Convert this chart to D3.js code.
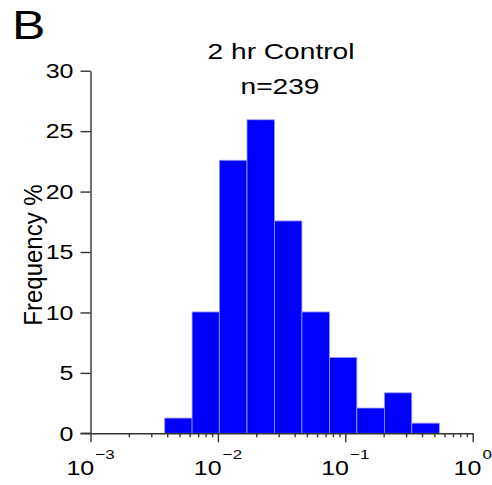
<!DOCTYPE html>
<html>
<head>
<meta charset="utf-8">
<script src="https://cdn.jsdelivr.net/npm/d3@7"></script>
<style>
  body { margin: 0; background: #fff; }
  text { font-family: Arial, "Liberation Sans", Helvetica, sans-serif; fill: #000; }
</style>
</head>
<body>
<svg width="492" height="485"></svg>
<script>
// bin edges (log spaced) and frequency % per bin, n=239
let binEdges = [0.00382, 0.00627, 0.01026, 0.01692, 0.02784, 0.04566, 0.07512, 0.1232, 0.2028, 0.3324, 0.5471];
let freqPct = [1.26, 10.04, 22.59, 25.94, 17.57, 10.04, 6.28, 2.09, 3.35, 0.84];
let yTicks = [0, 5, 10, 15, 20, 25, 30];
let xMajor = [1e-3, 1e-2, 1e-1, 1];
let xExp = ["\u22123", "\u22122", "\u22121", "0"];
let titleLines = ["2 hr Control", "n=239"];

let stretch = 1.25; // text in the figure is a bit wider than tall

const svg = d3.select("svg");

const x = d3.scaleLog().domain([1e-3, 1]).range([90.5, 472.7]);
const y = d3.scaleLinear().domain([0, 30]).range([433.3, 70.7]);

let bins = freqPct.map((v, i) => ({ x0: binEdges[i], x1: binEdges[i + 1], v: v }));

//bars
svg.append("g")
  .selectAll("rect")
  .data(bins)
  .enter()
  .append("rect")
  .attr("x", d => x(d.x0))
  .attr("width", d => x(d.x1) - x(d.x0))
  .attr("y", d => y(d.v))
  .attr("height", d => y(0) - y(d.v))
  .attr("fill", "#0000ff")
  .attr("stroke", "#9a9aff")
  .attr("stroke-width", 0.8);

//minor x ticks
let minor = [];
[1e-3, 1e-2, 1e-1].forEach(dec => {
  for (let k = 2; k <= 9; k++) minor.push(dec * k);
});

const xMinorAxis = d3.axisBottom(x).tickValues(minor).tickSize(4).tickFormat("");
svg.append("g")
  .attr("transform", "translate(0,433.3)")
  .call(xMinorAxis)
  .call(g => g.select(".domain").remove());

const xAxis = d3.axisBottom(x).tickValues(xMajor).tickSize(9).tickFormat("").tickSizeOuter(0);
svg.append("g")
  .attr("id", "x-axis")
  .attr("transform", "translate(0,433.3)")
  .call(xAxis);

const yAxis = d3.axisLeft(y).tickValues(yTicks).tickSize(10).tickFormat("").tickSizeOuter(0);
svg.append("g")
  .attr("id", "y-axis")
  .attr("transform", "translate(90.5,0)")
  .call(yAxis);

svg.selectAll("#x-axis path, #x-axis line, #y-axis path, #y-axis line, g line")
  .attr("stroke", "#333")
  .attr("stroke-width", 1.4);

// x axis line starts at the y tick end
svg.append("line")
  .attr("x1", 80.5).attr("x2", 90.5)
  .attr("y1", y(0)).attr("y2", y(0))
  .attr("stroke", "#333").attr("stroke-width", 1.4);

//y tick labels
svg.append("g")
  .selectAll("text")
  .data(yTicks)
  .enter()
  .append("text")
  .attr("text-anchor", "end")
  .attr("font-size", 20)
  .attr("transform", d => `translate(73.5,${y(d) + 7.2}) scale(${stretch},1)`)
  .text(d => d);

//x tick labels 10^n
const xl = svg.append("g")
  .selectAll("text")
  .data(xMajor)
  .enter()
  .append("text")
  .attr("text-anchor", "middle")
  .attr("font-size", 20)
  .attr("transform", d => `translate(${x(d)},475.3) scale(${stretch},1)`);
xl.append("tspan").text("10");
xl.append("tspan")
  .attr("font-size", 13.5)
  .attr("dx", 1)
  .attr("dy", -16)
  .text((d, i) => xExp[i]);

//titles
svg.append("text")
  .attr("text-anchor", "middle")
  .attr("font-size", 22.5)
  .attr("transform", `translate(281,59) scale(${stretch},1)`)
  .text(titleLines[0]);
svg.append("text")
  .attr("text-anchor", "middle")
  .attr("font-size", 22.5)
  .attr("transform", `translate(280,94) scale(${stretch},1)`)
  .text(titleLines[1]);

//panel letter
svg.append("text")
  .attr("font-size", 40)
  .attr("transform", `translate(12,39.3) scale(${stretch},1)`)
  .text("B");

//y label
svg.append("text")
  .attr("text-anchor", "middle")
  .attr("font-size", 24)
  .attr("transform", `translate(41.7,255) scale(1.08,1) rotate(-90)`)
  .text("Frequency %");
</script>
</body>
</html>
